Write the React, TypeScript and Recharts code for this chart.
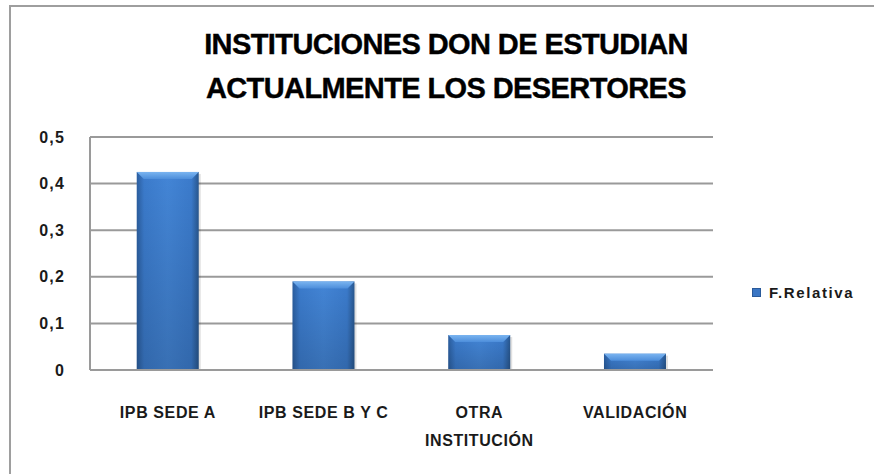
import React from 'react'
import { BarChart, Bar, XAxis, YAxis, CartesianGrid, Legend } from 'recharts'

const categories = ['IPB SEDE A', 'IPB SEDE B Y C', 'OTRA INSTITUCIÓN', 'VALIDACIÓN']
const relativa = [0.425, 0.19, 0.075, 0.035]
const yTicks = [0, 0.1, 0.2, 0.3, 0.4, 0.5]
const titleLines = ['INSTITUCIONES DON DE ESTUDIAN', 'ACTUALMENTE LOS DESERTORES']
const seriesName = 'F.Relativa'

const data = categories.map((c, i) => ({ name: c, value: relativa[i] }))

const labelFont = '"Liberation Sans", Arial, sans-serif'
const titleFont = '"Liberation Sans Narrow", "Liberation Sans", Arial, sans-serif'

// split long labels into lines, like excel does
function wrapLabel(label: string, maxChars = 14) {
  const words = label.split(' ')
  const lines: string[] = []
  let cur = ''
  for (const w of words) {
    const next = cur ? cur + ' ' + w : w
    if (next.length > maxChars && cur) {
      lines.push(cur)
      cur = w
    } else {
      cur = next
    }
  }
  if (cur) lines.push(cur)
  return lines
}

const XTick = (props: any) => {
  const { x, y, payload } = props
  const lines = wrapLabel(payload.value)
  return (
    <g>
      {lines.map((l, i) => (
        <text
          key={i}
          x={x}
          y={y + 40 + i * 28}
          textAnchor="middle"
          fontFamily={labelFont}
          fontWeight="bold"
          fontSize={16}
          letterSpacing={0.6}
          fill="#1a1a1a"
        >
          {l}
        </text>
      ))}
    </g>
  )
}

const BevelBar = (props: any) => {
  const { x, y, width, height } = props
  if (!height || height <= 0) return null
  const b = Math.min(7, height / 2)
  return (
    <g>
      <rect x={x + 2} y={y + 2} width={width} height={height - 1} fill="rgba(0,0,0,0.12)" />
      <rect x={x} y={y} width={width} height={height} fill="url(#barBody)" />
      <rect x={x} y={y} width={width} height={height} fill="url(#barShade)" />
      <polygon
        points={`${x},${y} ${x + width},${y} ${x + width - b},${y + b} ${x + b},${y + b}`}
        fill="url(#barTop)"
      />
    </g>
  )
}

const LegendContent = () => (
  <div style={{ display: 'flex', alignItems: 'center', fontFamily: labelFont, fontWeight: 'bold', fontSize: 15, letterSpacing: 1.6, color: '#1a1a1a' }}>
    <span style={{ display: 'inline-block', width: 9, height: 9, background: '#3a76c4', marginRight: 8, boxShadow: 'inset 0 0 0 1px #2a5a9a' }} />
    <span>{seriesName}</span>
  </div>
)

export default function App() {
  return (
    <div style={{ position: 'fixed', left: 0, top: 0, width: 874, height: 474, overflow: 'hidden', background: '#fff' }}>
      <div
        style={{
          position: 'absolute', left: 9, top: 5, width: 880, height: 480,
          border: '2px solid #9e9e9e', boxShadow: '1px 1px 1px #d0d0d0',
        }}
      />
      <svg style={{ position: 'absolute', left: 0, top: 0 }} width={874} height={120}>
        {titleLines.map((t, i) => (
          <text
            key={i}
            x={446}
            y={54 + i * 44}
            textAnchor="middle"
            fontFamily={titleFont}
            fontWeight="bold"
            fontSize={29}
            letterSpacing={-0.6}
            stroke="#000"
            strokeWidth={0.4}
            fill="#000"
          >
            {t}
          </text>
        ))}
      </svg>
      <div style={{ position: 'absolute', left: 0, top: 0 }}>
        <BarChart
          width={874}
          height={474}
          data={data}
          margin={{ top: 137, right: 161, left: 40, bottom: 64 }}
          barCategoryGap="30%"
        >
          <defs>
            <linearGradient id="barBody" x1="0" y1="0" x2="1" y2="0">
              <stop offset="0" stopColor="#2b5e9f" />
              <stop offset="0.12" stopColor="#3b7bcc" />
              <stop offset="0.5" stopColor="#4385d6" />
              <stop offset="0.88" stopColor="#3b7bcc" />
              <stop offset="1" stopColor="#28578f" />
            </linearGradient>
            <linearGradient id="barShade" x1="0" y1="0" x2="0" y2="1">
              <stop offset="0" stopColor="#000" stopOpacity="0" />
              <stop offset="1" stopColor="#000" stopOpacity="0.16" />
            </linearGradient>
            <linearGradient id="barTop" x1="0" y1="0" x2="0" y2="1">
              <stop offset="0" stopColor="#7ab4f0" />
              <stop offset="1" stopColor="#4d8edb" />
            </linearGradient>
          </defs>
          <CartesianGrid vertical={false} stroke="#9a9a9a" strokeWidth={2} />
          <XAxis
            dataKey="name"
            interval={0}
            tick={<XTick />}
            tickLine={false}
            axisLine={{ stroke: '#9a9a9a', strokeWidth: 2 }}
            height={40}
          />
          <YAxis
            width={50}
            domain={[0, 0.5]}
            ticks={yTicks}
            tickFormatter={(v: number) => String(v).replace('.', ',')}
            tickLine={false}
            tickSize={6}
            tickMargin={19}
            axisLine={{ stroke: '#9a9a9a', strokeWidth: 2 }}
            tick={{ fontFamily: labelFont, fontWeight: 'bold', fontSize: 16, fill: '#1a1a1a', letterSpacing: 1.2 }}
          />
          <Legend
            layout="horizontal"
            align="center"
            verticalAlign="middle"
            content={<LegendContent />}
            wrapperStyle={{ left: 752, top: 284, width: 120, height: 20 }}
          />
          <Bar dataKey="value" name={seriesName} shape={<BevelBar />} isAnimationActive={false} />
        </BarChart>
      </div>
    </div>
  )
}
